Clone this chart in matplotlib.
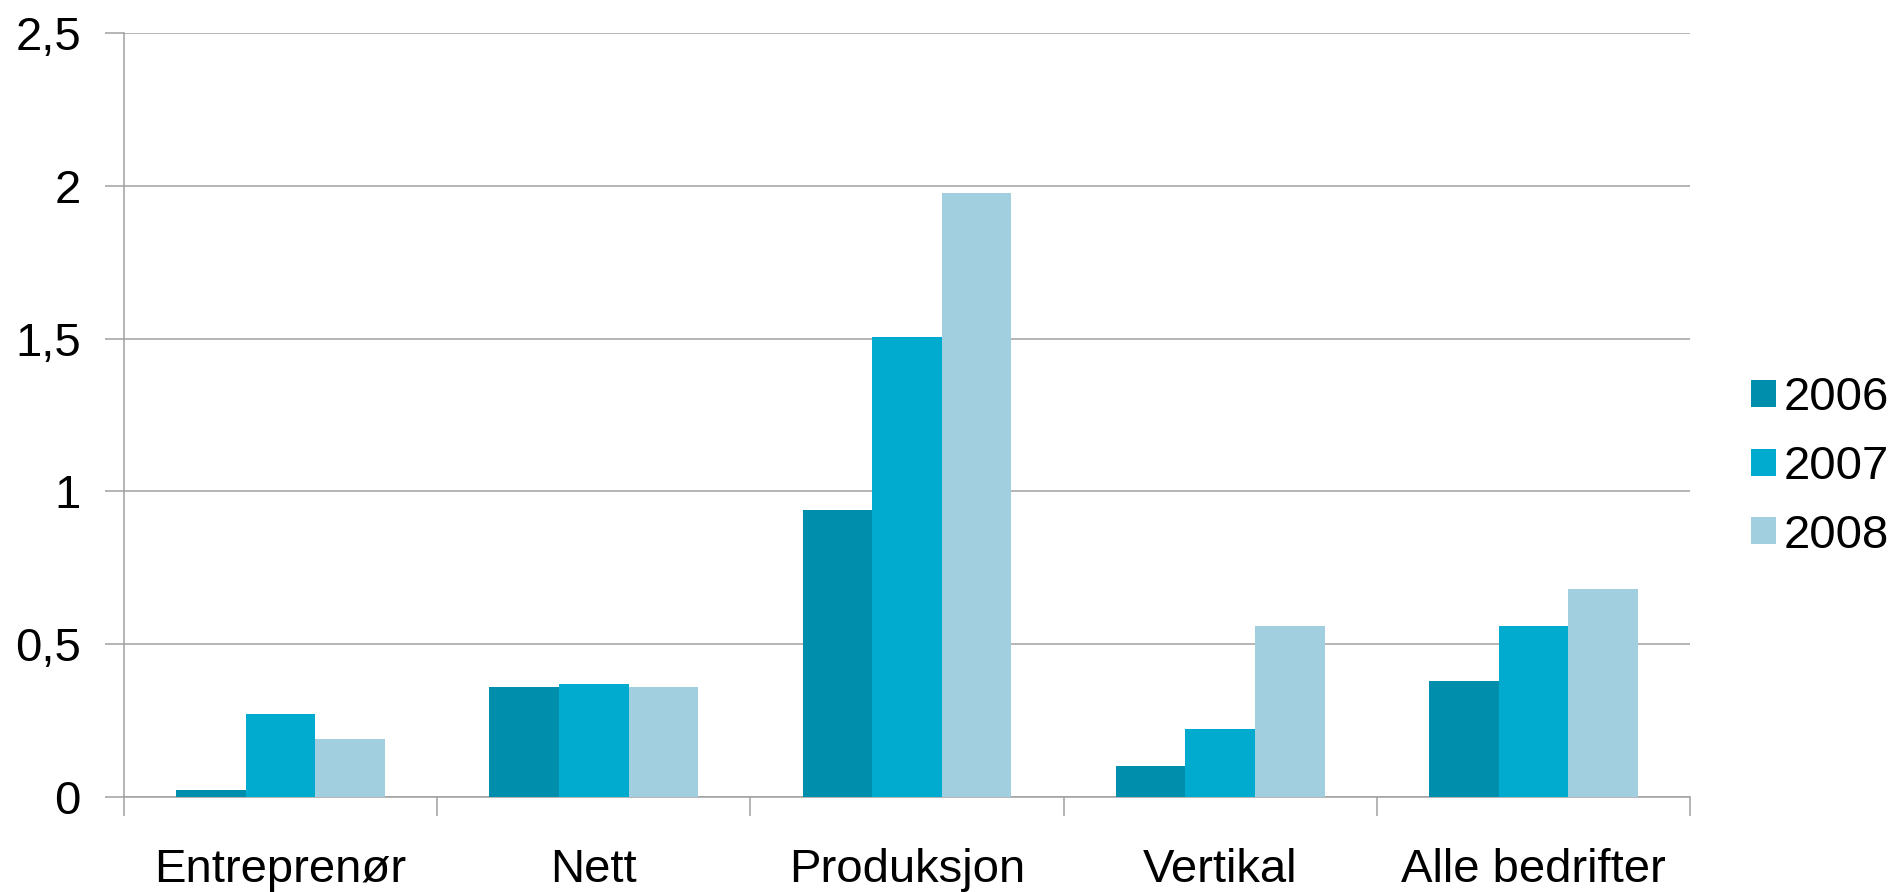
import matplotlib
matplotlib.use("Agg")
import matplotlib.pyplot as plt
import numpy as np
from matplotlib.patches import Patch

categories = ["Entreprenør", "Nett", "Produksjon", "Vertikal", "Alle bedrifter"]
series_names = ["2006", "2007", "2008"]
values_2006 = [0.022, 0.361, 0.939, 0.10, 0.38]
values_2007 = [0.27, 0.371, 1.505, 0.222, 0.559]
values_2008 = [0.19, 0.361, 1.977, 0.559, 0.68]
ytick_values = [0, 0.5, 1, 1.5, 2, 2.5]
ytick_labels = ["0", "0,5", "1", "1,5", "2", "2,5"]
colors = ["#008EAD", "#00ABCF", "#A1CFE0"]

plt.rcParams["font.family"] = ["Liberation Sans", "DejaVu Sans"]

W, H = 1897, 892
fig = plt.figure(figsize=(W / 100, H / 100), dpi=100)
ax = fig.add_axes([124 / W, 1 - 797 / H, (1690 - 124) / W, (797 - 33) / H])

x = np.arange(len(categories))
w = 1 / 4.5
grid_c = "#A0A0A0"
for i, (vals, name) in enumerate(zip([values_2006, values_2007, values_2008], series_names)):
    ax.bar(x + (i - 1) * w, vals, width=w, color=colors[i], label=name, zorder=3, linewidth=0)

ax.set_xlim(-0.5, len(categories) - 0.5)
ax.set_ylim(0, 2.5)
ax.set_yticks(ytick_values)
ax.set_yticklabels(ytick_labels)
ax.yaxis.grid(True, color=grid_c, linewidth=1.1, zorder=0)
ax.set_axisbelow(True)

ax.set_xticks(np.arange(len(categories) + 1) - 0.5)
ax.set_xticklabels([])
ax.set_xticks(x, minor=True)
ax.set_xticklabels(categories, minor=True)
ax.tick_params(axis="x", which="minor", length=0, pad=37, labelsize=34)
ax.tick_params(axis="x", which="major", length=14, width=1.1, color=grid_c, direction="out")
ax.tick_params(axis="y", length=14, width=1.1, color=grid_c, direction="out", pad=17, labelsize=34)

for s in ["top", "right"]:
    ax.spines[s].set_visible(False)
for s in ["left", "bottom"]:
    ax.spines[s].set_color(grid_c)
    ax.spines[s].set_linewidth(1.1)

handles = [Patch(facecolor=c, edgecolor="none") for c in colors]
fig.legend(handles, series_names, loc="center left", bbox_to_anchor=(1751 / W, 1 - 467 / H),
           frameon=False, fontsize=34, handlelength=0.53, handleheight=0.5,
           handletextpad=0.16, labelspacing=0.52, borderaxespad=0, borderpad=0)

fig.savefig("out.png", dpi=100)
